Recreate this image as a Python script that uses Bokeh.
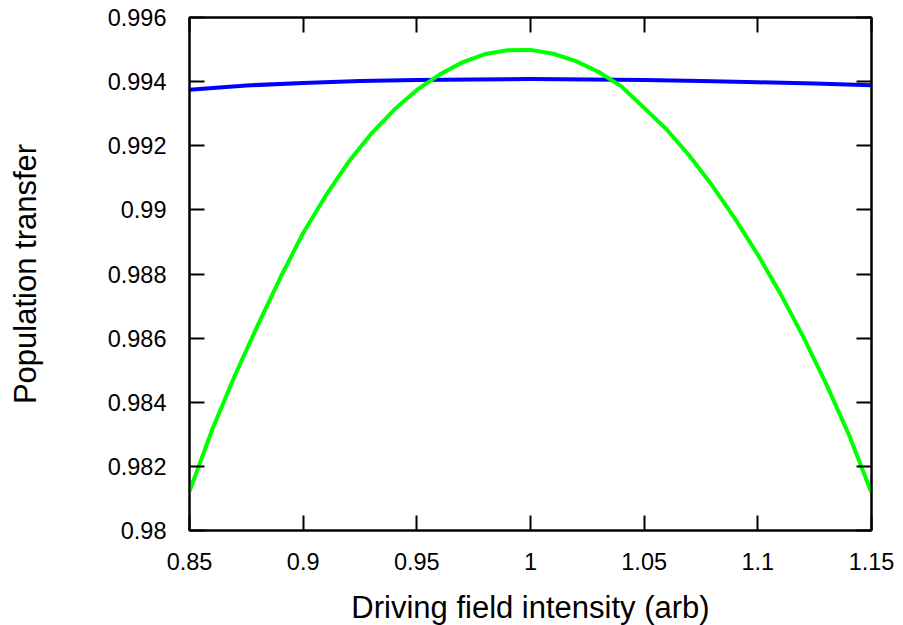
from bokeh.plotting import figure
from bokeh.models import Range1d, FixedTicker, LinearAxis
from bokeh.embed import file_html
from bokeh.resources import INLINE

# Data
x_blue = [0.85, 0.875, 0.90, 0.925, 0.95, 0.975, 1.00, 1.025, 1.05, 1.075, 1.10, 1.125, 1.15]
y_blue = [0.99375, 0.99388, 0.99396, 0.99402, 0.99405, 0.99407, 0.99408, 0.99407,
          0.99405, 0.99402, 0.99398, 0.99394, 0.99389]

x_green = [0.85, 0.86, 0.87, 0.88, 0.89, 0.90, 0.91, 0.92, 0.93, 0.94, 0.95, 0.96,
           0.97, 0.98, 0.99, 1.00, 1.01, 1.02, 1.03, 1.04, 1.05, 1.06, 1.07, 1.08,
           1.09, 1.10, 1.11, 1.12, 1.13, 1.14, 1.15]
y_green = [0.98122, 0.98315, 0.98484, 0.98640, 0.98789, 0.98928, 0.99045, 0.99150,
           0.99238, 0.99312, 0.99374, 0.99422, 0.99460, 0.99486, 0.99498, 0.99499,
           0.99487, 0.99464, 0.99430, 0.99385, 0.99318, 0.99250, 0.99168, 0.99075,
           0.98972, 0.98860, 0.98738, 0.98604, 0.98458, 0.98300, 0.98118]

x_ticks = [0.85, 0.9, 0.95, 1.0, 1.05, 1.1, 1.15]
x_tick_labels = ["0.85", "0.9", "0.95", "1", "1.05", "1.1", "1.15"]
y_ticks = [0.98, 0.982, 0.984, 0.986, 0.988, 0.99, 0.992, 0.994, 0.996]
y_tick_labels = ["0.98", "0.982", "0.984", "0.986", "0.988", "0.99", "0.992", "0.994", "0.996"]

FONT = "Liberation Sans"

p = figure(frame_width=682, frame_height=513, output_backend="svg", toolbar_location=None,
           x_range=Range1d(0.85, 1.15), y_range=Range1d(0.98, 0.996),
           min_border_left=189, min_border_top=17, min_border_right=30, min_border_bottom=60)
p.grid.visible = False
p.background_fill_color = "white"
p.border_fill_color = "white"
p.outline_line_color = "black"
p.outline_line_width = 2

p.line(x_blue, y_blue, line_color="#0000ff", line_width=4, line_join="round")
p.line(x_green, y_green, line_color="#00ff00", line_width=4, line_join="round")

def style(ax, ticks, labels):
    ax.ticker = FixedTicker(ticks=ticks)
    ax.axis_line_color = "black"
    ax.axis_line_width = 2
    ax.major_tick_line_color = "black"
    ax.major_tick_line_width = 2
    ax.major_tick_in = 15
    ax.major_tick_out = 0
    ax.minor_tick_line_color = None
    ax.major_label_overrides = {t: l for t, l in zip(ticks, labels)}
    ax.major_label_text_font = FONT
    ax.major_label_text_color = "black"
    ax.major_label_text_font_size = "23.5px"
    ax.major_label_text_line_height = 1.0
    ax.axis_label_text_font = FONT
    ax.axis_label_text_font_style = "normal"
    ax.axis_label_text_color = "black"
    ax.axis_label_text_font_size = "31px"
    ax.axis_label_text_line_height = 1.0

xa = p.xaxis[0]
style(xa, x_ticks, x_tick_labels)
xa.major_label_standoff = 22
xa.axis_label = "Driving field intensity (arb)"
xa.axis_label_standoff = 17

ya = p.yaxis[0]
style(ya, y_ticks, y_tick_labels)
ya.major_label_standoff = 23
ya.axis_label = "Population transfer"
ya.axis_label_standoff = 62

# mirrored tick marks on the top and right edges (no labels)
top = LinearAxis()
style(top, x_ticks, [""] * len(x_ticks))
top.major_label_standoff = 0
p.add_layout(top, "above")
right = LinearAxis()
style(right, y_ticks, [""] * len(y_ticks))
right.major_label_standoff = 0
p.add_layout(right, "right")

open("out.html", "w").write(file_html(p, INLINE))
